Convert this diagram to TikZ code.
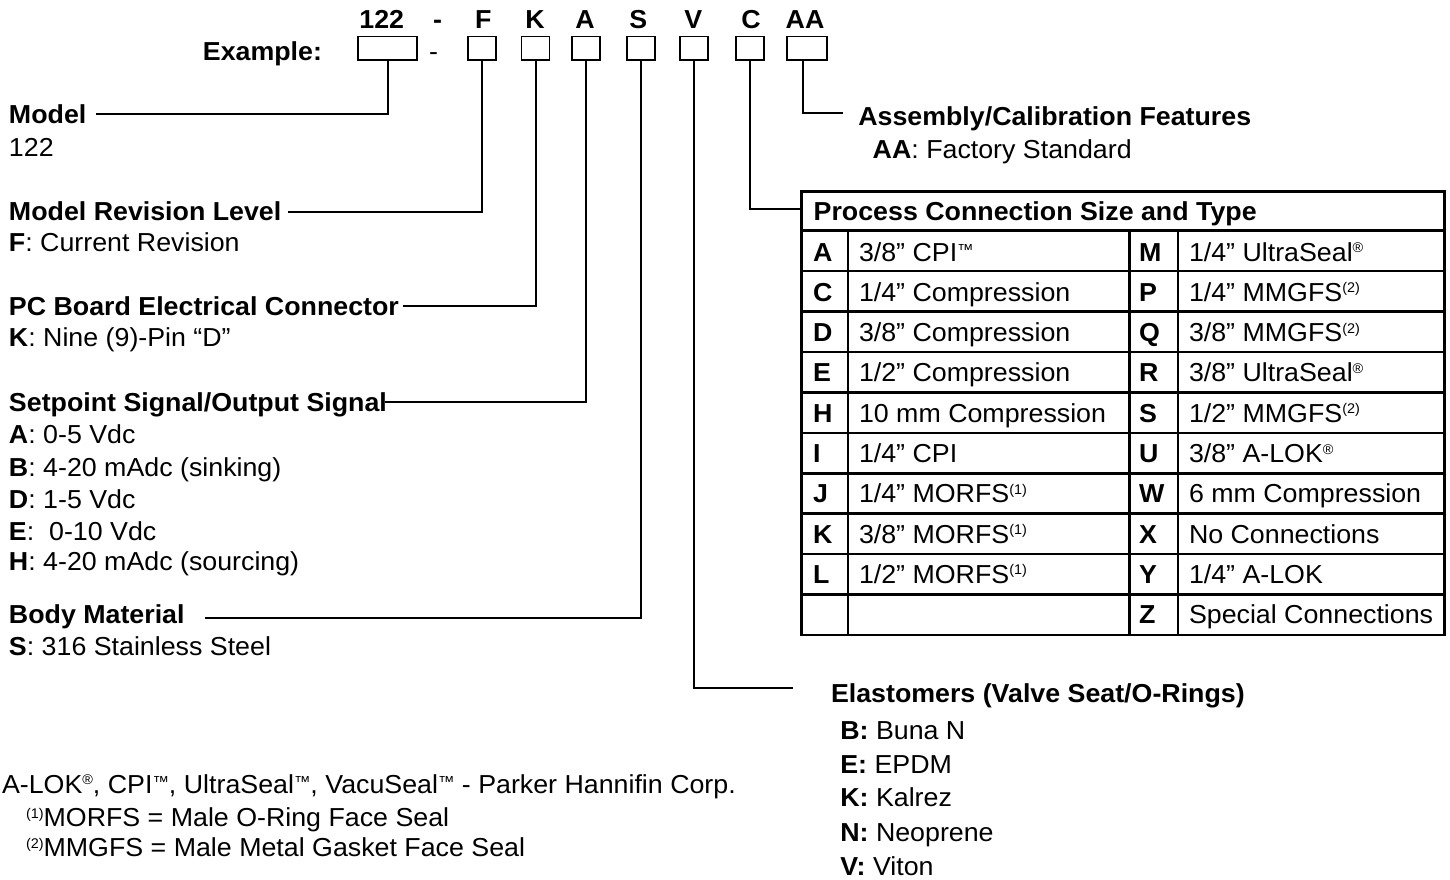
\documentclass[tikz,border=0pt]{standalone}
\usepackage{fontspec}
\setmainfont[FakeStretch=1.03]{Liberation Sans}
\newcommand\fsz{\fontsize{26}{31}\selectfont}
\newcommand\supx[1]{\raisebox{8.5pt}{\fontsize{14}{14}\selectfont #1}}
\newcommand\tmk{\raisebox{6pt}{\fontsize{16}{16}\selectfont ™}}
\begin{document}
\begin{tikzpicture}[x=1pt,y=-1pt,line width=2pt,
  txt/.style={anchor=base west,inner sep=0pt,font=\fsz},
  hd/.style={txt,font=\fsz\bfseries},
  code/.style={anchor=base,inner sep=0pt,font=\fsz\bfseries},
  cbox/.style={draw,line width=1.8pt,inner sep=0pt,minimum height=23.5pt},
  conn/.style={line width=2pt},
  tline/.style={line width=2.5pt}]
\useasboundingbox (0,0) rectangle (1450,879);

% code letters
\node[code] (l122) at (381.7,28.5) {122};
\node[code] (ldash) at (437.7,28.5) {-};
\node[code] (lF) at (483.3,28.5) {F};
\node[code] (lK) at (535,28.5) {K};
\node[code] (lA) at (585,28.5) {A};
\node[code] (lS) at (638.3,28.5) {S};
\node[code] (lV) at (693.3,28.5) {V};
\node[code] (lC) at (751,28.5) {C};
\node[code] (lAA) at (805,28.5) {AA};

\node[hd,anchor=base east] (ex) at (323,60) {Example:};
\node[txt,anchor=base] (dash) at (433.5,60) {-};

% boxes
\node[cbox,minimum width=59.6pt] (b122) at (387.5,48.25) {};
\node[cbox,minimum width=28pt] (bF) at (481.8,48.25) {};
\node[cbox,minimum width=28pt] (bK) at (535.5,48.25) {};
\node[cbox,minimum width=28pt] (bA) at (586.2,48.25) {};
\node[cbox,minimum width=28pt] (bS) at (641.3,48.25) {};
\node[cbox,minimum width=28pt] (bV) at (693.7,48.25) {};
\node[cbox,minimum width=28pt] (bC) at (750.3,48.25) {};
\node[cbox,minimum width=40pt] (bAA) at (806.7,48.25) {};

% left descriptions
\node[hd] (hModel) at (8,123.3) {Model};
\node[txt] (vModel) at (8,156) {122};
\node[hd] (hRev) at (8,220) {Model Revision Level};
\node[txt] (vRev) at (8,251.7) {\textbf{F}: Current Revision};
\node[hd] (hPC) at (8,315.7) {PC Board Electrical Connector};
\node[txt] (vPC) at (8,346.7) {\textbf{K}: Nine (9)-Pin “D”};
\node[hd] (hSig) at (8,411.7) {Setpoint Signal/Output Signal};
\node[txt] (vSigA) at (8,443.3) {\textbf{A}: 0-5 Vdc};
\node[txt] (vSigB) at (8,476.7) {\textbf{B}: 4-20 mAdc (sinking)};
\node[txt] (vSigD) at (8,508.3) {\textbf{D}: 1-5 Vdc};
\node[txt] (vSigE) at (8,540) {\textbf{E}:~ 0-10 Vdc};
\node[txt] (vSigH) at (8,570) {\textbf{H}: 4-20 mAdc (sourcing)};
\node[hd] (hBody) at (8,623.3) {Body Material};
\node[txt] (vBody) at (8,655) {\textbf{S}: 316 Stainless Steel};

% assembly
\node[hd] (hAA) at (857.3,125) {Assembly/Calibration Features};
\node[txt] (vAA) at (871.7,158.3) {\textbf{AA}: Factory Standard};

% table
\node[inner sep=0pt,minimum width=643pt,minimum height=39pt,anchor=north west] (hdr) at (801.5,191.7) {};
\draw[tline] (801.5,191.7) rectangle (1444.5,635);
\draw[tline] (801.5,230.7) -- (1444.5,230.7);
\foreach \i in {1,...,9} \draw[tline] (801.5,{230.7+40.43*\i}) -- (1444.5,{230.7+40.43*\i});
\foreach \x in {848,1129.5,1178} \draw[tline] (\x,230.7) -- (\x,635);
\node[hd] (hdrtxt) at (812.7,220) {Process Connection Size and Type};

\node[hd] (tL0) at (812,261) {A};  \node[txt] (dL0) at (858,261) {3/8” CPI\tmk};
\node[hd] (tL1) at (812,301.3) {C};  \node[txt] (dL1) at (858,301.3) {1/4” Compression};
\node[hd] (tL2) at (812,341.6) {D};  \node[txt] (dL2) at (858,341.6) {3/8” Compression};
\node[hd] (tL3) at (812,381.9) {E};  \node[txt] (dL3) at (858,381.9) {1/2” Compression};
\node[hd] (tL4) at (812,422.2) {H};  \node[txt] (dL4) at (858,422.2) {10 mm Compression};
\node[hd] (tL5) at (812,462.5) {I};  \node[txt] (dL5) at (858,462.5) {1/4” CPI};
\node[hd] (tL6) at (812,502.8) {J};  \node[txt] (dL6) at (858,502.8) {1/4” MORFS\supx{(1)}};
\node[hd] (tL7) at (812,543.1) {K};  \node[txt] (dL7) at (858,543.1) {3/8” MORFS\supx{(1)}};
\node[hd] (tL8) at (812,583.4) {L};  \node[txt] (dL8) at (858,583.4) {1/2” MORFS\supx{(1)}};

\node[hd] (tR0) at (1138,261) {M};  \node[txt] (dR0) at (1188,261) {1/4” UltraSeal\supx{®}};
\node[hd] (tR1) at (1138,301.3) {P};  \node[txt] (dR1) at (1188,301.3) {1/4” MMGFS\supx{(2)}};
\node[hd] (tR2) at (1138,341.6) {Q};  \node[txt] (dR2) at (1188,341.6) {3/8” MMGFS\supx{(2)}};
\node[hd] (tR3) at (1138,381.9) {R};  \node[txt] (dR3) at (1188,381.9) {3/8” UltraSeal\supx{®}};
\node[hd] (tR4) at (1138,422.2) {S};  \node[txt] (dR4) at (1188,422.2) {1/2” MMGFS\supx{(2)}};
\node[hd] (tR5) at (1138,462.5) {U};  \node[txt] (dR5) at (1188,462.5) {3/8” A-LOK\supx{®}};
\node[hd] (tR6) at (1138,502.8) {W};  \node[txt] (dR6) at (1188,502.8) {6 mm Compression};
\node[hd] (tR7) at (1138,543.1) {X};  \node[txt] (dR7) at (1188,543.1) {No Connections};
\node[hd] (tR8) at (1138,583.4) {Y};  \node[txt] (dR8) at (1188,583.4) {1/4” A-LOK};
\node[hd] (tR9) at (1138,623.7) {Z};  \node[txt] (dR9) at (1188,623.7) {Special Connections};

% elastomers
\node[hd] (hEl) at (830,702) {Elastomers (Valve Seat/O-Rings)};
\node[txt] (elB) at (839.3,739) {\textbf{B:} Buna N};
\node[txt] (elE) at (839.3,773.3) {\textbf{E:} EPDM};
\node[txt] (elK) at (839.3,806.7) {\textbf{K:} Kalrez};
\node[txt] (elN) at (839.3,841.7) {\textbf{N:} Neoprene};
\node[txt] (elV) at (839.3,875) {\textbf{V:} Viton};

% footnotes
\node[txt] (fn0) at (1,793.3) {A-LOK\supx{®}, CPI\tmk, UltraSeal\tmk, VacuSeal\tmk{} - Parker Hannifin Corp.};
\node[txt] (fn1) at (25,826.7) {\supx{(1)}MORFS = Male O-Ring Face Seal};
\node[txt] (fn2) at (25,856.7) {\supx{(2)}MMGFS = Male Metal Gasket Face Seal};

% connector free ends
\coordinate (eModel) at (96,114.3);
\coordinate (eRev) at (288,211.7);
\coordinate (ePC) at (403,306);
\coordinate (eSig) at (385,401.7);
\coordinate (eBody) at (205,618.3);
\coordinate (eAA) at (843.3,113.3);
\coordinate (eV) at (793.3,687.7);

\draw[conn] (b122.south) |- (eModel);
\draw[conn] (bF.south) |- (eRev);
\draw[conn] (bK.south) |- (ePC);
\draw[conn] (bA.south) |- (eSig);
\draw[conn] (bS.south) |- (eBody);
\draw[conn] (bV.south) |- (eV);
\draw[conn] (bC.south) |- ([yshift=3pt]hdr.west);
\draw[conn] ([xshift=-4pt]bAA.south) |- (eAA);
\end{tikzpicture}
\end{document}
